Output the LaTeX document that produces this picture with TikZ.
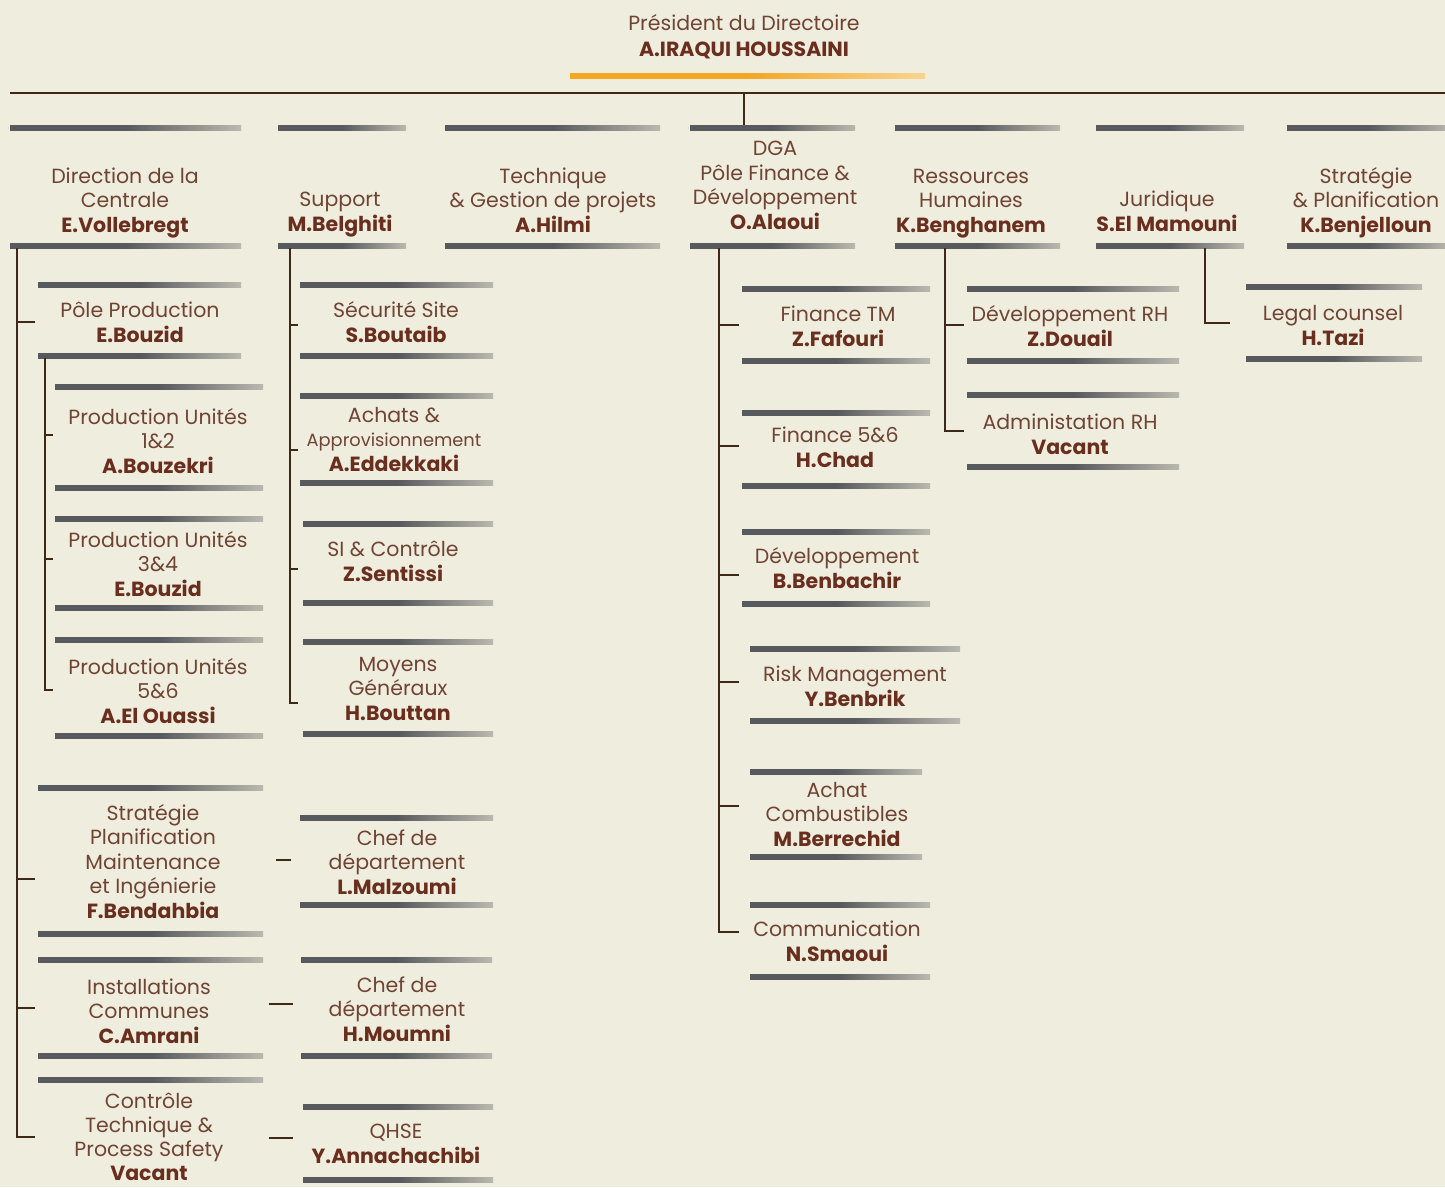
\documentclass[tikz,border=0pt]{standalone}
\usepackage{fontspec}
\setmainfont{Poppins}
\definecolor{bg}{RGB}{239,237,222}
\definecolor{treg}{RGB}{112,68,52}
\definecolor{tbold}{RGB}{106,46,30}
\definecolor{lnk}{RGB}{62,40,25}
\definecolor{bdark}{RGB}{88,89,93}
\definecolor{blight}{RGB}{185,185,175}
\definecolor{odark}{RGB}{245,166,35}
\definecolor{olight}{RGB}{248,212,145}
\newcommand\who[1]{\textcolor{tbold}{\bfseries #1}}
\newcommand\orgbar[3]{\shade[left color=bdark,right color=blight,middle color=bdark] (#1,#3-2.5) rectangle (#2,#3+2.5);}
\begin{document}
\begin{tikzpicture}[x=1pt,y=-1pt,
  box/.style={anchor=base,align=center,inner sep=0pt,text=treg,font=\fontsize{20.5}{24.5}\selectfont},
  conn/.style={draw=lnk,line width=1.8pt}]
\fill[bg] (0,0) rectangle (1445,1187);
\useasboundingbox (0,0) rectangle (1445,1187);
% title
\node[box,font=\fontsize{20.5}{26}\selectfont] (pres) at (744,56) {Président du Directoire\\\who{A.IRAQUI HOUSSAINI}};
\shade[left color=odark,right color=olight,middle color=odark] (570,73.5) rectangle (925,78.5);
\coordinate (hl) at (10,93);
\coordinate (hr) at (1445,93);
\coordinate (hm) at (744,93);
\coordinate (dgatop) at (744,126);
\draw[conn] (hl) -- (hr);
\draw[conn] (hm) -- (dgatop);
% top row bars
\foreach \a/\b in {10/241,278/406,445/660,690/855,895/1060,1096/1244,1287/1450}{
  \orgbar{\a}{\b}{128}
  \orgbar{\a}{\b}{246}
}
\node[box] (c1) at (125,232) {Direction de la\\Centrale\\\who{E.Vollebregt}};
\node[box] (c2) at (340,231) {Support\\\who{M.Belghiti}};
\node[box] (c3) at (553,232) {Technique\\\& Gestion de projets\\\who{A.Hilmi}};
\node[box] (c4) at (775,229) {DGA\\Pôle Finance \&\\Développement\\\who{O.Alaoui}};
\node[box] (c5) at (971,232) {Ressources\\Humaines\\\who{K.Benghanem}};
\node[box] (c6) at (1167,231) {Juridique\\\who{S.El Mamouni}};
\node[box] (c7) at (1366,232) {Stratégie\\\& Planification\\\who{K.Benjelloun}};
% column 1
\orgbar{38}{241}{285}\orgbar{38}{241}{356}
\node[box] (p1) at (140,342) {Pôle Production\\\who{E.Bouzid}};
\orgbar{55}{263}{387}\orgbar{55}{263}{488}
\node[box] (p11) at (158,473) {Production Unités\\1\&2\\\who{A.Bouzekri}};
\orgbar{55}{263}{519}\orgbar{55}{263}{608}
\node[box] (p12) at (158,596) {Production Unités\\3\&4\\\who{E.Bouzid}};
\orgbar{55}{263}{640}\orgbar{55}{263}{736}
\node[box] (p13) at (158,723) {Production Unités\\5\&6\\\who{A.El Ouassi}};
\orgbar{38}{263}{788}\orgbar{38}{263}{934}
\node[box] (p2) at (153,918) {Stratégie\\Planification\\Maintenance\\et Ingénierie\\\who{F.Bendahbia}};
\orgbar{38}{263}{960}\orgbar{38}{263}{1056}
\node[box] (p3) at (149,1043) {Installations\\Communes\\\who{C.Amrani}};
\orgbar{38}{263}{1080}
\node[box,font=\fontsize{20.5}{24}\selectfont] (p4) at (149,1180) {Contrôle\\Technique \&\\Process Safety\\\who{Vacant}};
% column 2
\orgbar{300}{493}{285}\orgbar{300}{493}{356}
\node[box] (s1) at (396,342) {Sécurité Site\\\who{S.Boutaib}};
\orgbar{300}{493}{396}\orgbar{300}{493}{483}
\node[box] (s2) at (394,471) {Achats \&\\{\fontsize{17.8}{24.5}\selectfont Approvisionnement}\\\who{A.Eddekkaki}};
\orgbar{303}{493}{524}\orgbar{303}{493}{603}
\node[box] (s3) at (393,581) {SI \& Contrôle\\\who{Z.Sentissi}};
\orgbar{303}{493}{642}\orgbar{303}{493}{734}
\node[box] (s4) at (398,720) {Moyens\\Généraux\\\who{H.Bouttan}};
\orgbar{300}{493}{818}\orgbar{300}{493}{905}
\node[box] (s5) at (397,894) {Chef de\\département\\\who{L.Malzoumi}};
\orgbar{301}{492}{960}\orgbar{301}{492}{1056}
\node[box] (s6) at (397,1041) {Chef de\\département\\\who{H.Moumni}};
\orgbar{303}{493}{1107}\orgbar{303}{493}{1180}
\node[box] (s7) at (396,1163) {QHSE\\\who{Y.Annachachibi}};
% DGA
\orgbar{742}{930}{289}\orgbar{742}{930}{361}
\node[box] (d1) at (838,346) {Finance TM\\\who{Z.Fafouri}};
\orgbar{742}{930}{413}\orgbar{742}{930}{486}
\node[box] (d2) at (835,467) {Finance 5\&6\\\who{H.Chad}};
\orgbar{742}{930}{532}\orgbar{742}{930}{604}
\node[box] (d3) at (837,588) {Développement\\\who{B.Benbachir}};
\orgbar{750}{960}{649}\orgbar{750}{960}{721}
\node[box] (d4) at (855,706) {Risk Management\\\who{Y.Benbrik}};
\orgbar{750}{922}{772}\orgbar{750}{922}{857}
\node[box] (d5) at (837,846) {Achat\\Combustibles\\\who{M.Berrechid}};
\orgbar{750}{930}{905}\orgbar{750}{930}{977}
\node[box] (d6) at (837,961) {Communication\\\who{N.Smaoui}};
% RH
\orgbar{967}{1179}{289}\orgbar{967}{1179}{361}
\node[box] (r1) at (1070,346) {Développement RH\\\who{Z.Douail}};
\orgbar{967}{1179}{395}\orgbar{967}{1179}{467}
\node[box] (r2) at (1070,454) {Administation RH\\\who{Vacant}};
% Juridique
\orgbar{1246}{1422}{287}\orgbar{1246}{1422}{359}
\node[box] (j1) at (1333,345) {Legal counsel\\\who{H.Tazi}};
% connectors
\coordinate (c1s) at (17,248);
\coordinate (tp1) at (35,322);
\coordinate (tp2) at (35,879);
\coordinate (tp3) at (35,1008);
\coordinate (tp4) at (35,1137);
\draw[conn] (c1s) |- (tp1) (c1s) |- (tp2) (c1s) |- (tp3) (c1s) |- (tp4);
\coordinate (p1s) at (45,358);
\coordinate (tp11) at (53,435);
\coordinate (tp12) at (53,559);
\coordinate (tp13) at (53,690);
\draw[conn] (p1s) |- (tp11) (p1s) |- (tp12) (p1s) |- (tp13);
\coordinate (c2s) at (290,248);
\coordinate (ts1) at (298,325);
\coordinate (ts2) at (298,450);
\coordinate (ts3) at (298,569);
\coordinate (ts4) at (298,703);
\draw[conn] (c2s) |- (ts1) (c2s) |- (ts2) (c2s) |- (ts3) (c2s) |- (ts4);
\coordinate (ds5a) at (276,860); \coordinate (ds5b) at (291,860);
\coordinate (ds6a) at (269,1004); \coordinate (ds6b) at (293,1004);
\coordinate (ds7a) at (269,1138); \coordinate (ds7b) at (293,1138);
\draw[conn] (ds5a) -- (ds5b) (ds6a) -- (ds6b) (ds7a) -- (ds7b);
\coordinate (c4s) at (719,248);
\foreach \y/\n in {325/1,446/2,575/3,682/4,806/5,932/6}{
  \coordinate (td\n) at (739,\y);
  \draw[conn] (c4s) |- (td\n);
}
\coordinate (c5s) at (945,248);
\coordinate (tr1) at (964,325);
\coordinate (tr2) at (964,431);
\draw[conn] (c5s) |- (tr1) (c5s) |- (tr2);
\coordinate (c6s) at (1205,248);
\coordinate (tj1) at (1230,323);
\draw[conn] (c6s) |- (tj1);
\end{tikzpicture}
\end{document}
